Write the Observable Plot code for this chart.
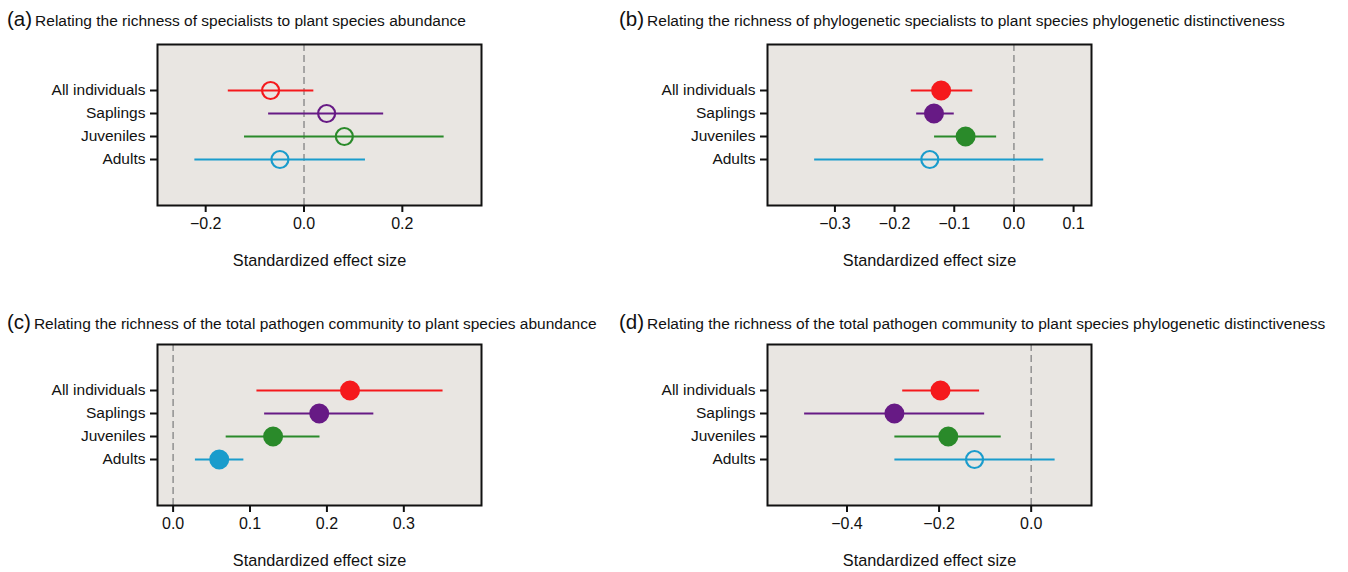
<!DOCTYPE html>
<html>
<head>
<meta charset="utf-8">
<script src="https://cdn.jsdelivr.net/npm/d3@7"></script>
<script src="https://cdn.jsdelivr.net/npm/@observablehq/plot@0.6"></script>
<style>
  body { margin: 0; background: #fff; }
  #root { position: relative; width: 1348px; height: 572px; font-family: "Liberation Sans", Arial, sans-serif; color: #000; }
  .title { position: absolute; white-space: nowrap; line-height: 24px; font-size: 15.5px; color: #111; }
  .title .lab { font-size: 20.5px; margin-right: 3px; }
  .panel { position: absolute; }
</style>
</head>
<body>
<div id="root"></div>
<script>
// ---- data ----
const categories = ["All individuals", "Saplings", "Juveniles", "Adults"];
const colors = ["#f5191c", "#671a85", "#2a8a2a", "#1a9ccc"];

const titles = [
  "Relating the richness of specialists to plant species abundance",
  "Relating the richness of phylogenetic specialists to plant species phylogenetic distinctiveness",
  "Relating the richness of the total pathogen community to plant species abundance",
  "Relating the richness of the total pathogen community to plant species phylogenetic distinctiveness"
];
const panelLabels = ["(a)", "(b)", "(c)", "(d)"];

// panel (a)
const estA = [-0.068, 0.046, 0.082, -0.049];
const lowA = [-0.154, -0.072, -0.121, -0.222];
const highA = [0.020, 0.162, 0.285, 0.125];
const sigA = [false, false, false, false];

// panel (b)
const estB = [-0.122, -0.134, -0.081, -0.141];
const lowB = [-0.172, -0.163, -0.133, -0.334];
const highB = [-0.069, -0.100, -0.029, 0.050];
const sigB = [true, true, true, false];

// panel (c)
const estC = [0.230, 0.190, 0.130, 0.060];
const lowC = [0.109, 0.119, 0.069, 0.029];
const highC = [0.351, 0.261, 0.191, 0.092];
const sigC = [true, true, true, true];

// panel (d)
const estD = [-0.197, -0.297, -0.180, -0.123];
const lowD = [-0.279, -0.492, -0.296, -0.296];
const highD = [-0.112, -0.101, -0.065, 0.052];
const sigD = [true, true, true, false];

// axis settings
const xDomains = [[-0.298, 0.361], [-0.413, 0.130], [-0.0203, 0.401], [-0.5726, 0.131]];
const xTicks = [[-0.2, 0, 0.2], [-0.3, -0.2, -0.1, 0, 0.1], [0, 0.1, 0.2, 0.3], [-0.4, -0.2, 0]];
const xLabel = "Standardized effect size";

const panels = [
  {est: estA, low: lowA, high: highA, sig: sigA, left: 0, top: 30, tLeft: 7, tTop: 7},
  {est: estB, low: lowB, high: highB, sig: sigB, left: 610, top: 30, tLeft: 619, tTop: 7},
  {est: estC, low: lowC, high: highC, sig: sigC, left: 0, top: 330, tLeft: 7, tTop: 310},
  {est: estD, low: lowD, high: highD, sig: sigD, left: 610, top: 330, tLeft: 619, tTop: 310}
];

const root = document.getElementById("root");
const bg = "#e9e6e2";
const fmt = d3.format(".1f");

panels.forEach((p, i) => {
  const t = document.createElement("div");
  t.className = "title";
  t.style.left = p.tLeft + "px";
  t.style.top = p.tTop + "px";
  t.innerHTML = `<span class="lab">${panelLabels[i]}</span>${titles[i]}`;
  root.appendChild(t);

  const data = categories.map((c, j) => ({cat: c, est: p.est[j], lo: p.low[j], hi: p.high[j], sig: p.sig[j]}));

  const chart = Plot.plot({
    width: 501,
    height: 250,
    marginLeft: 157,
    marginRight: 20,
    marginTop: 14,
    marginBottom: 75,
    style: {fontFamily: "'Liberation Sans', Arial, sans-serif", fontSize: "15.5px", color: "#111", background: "transparent"},
    x: {domain: xDomains[i]},
    y: {type: "point", domain: categories, padding: 2},
    color: {domain: categories, range: colors},
    marks: [
      Plot.frame({fill: bg, stroke: null}),
      Plot.ruleX([0], {stroke: "#8a8a8a", strokeWidth: 1.4, strokeDasharray: "7,4"}),
      Plot.ruleY(data, {y: "cat", x1: "lo", x2: "hi", stroke: "cat", strokeWidth: 2}),
      Plot.dot(data.filter(d => d.sig), {x: "est", y: "cat", r: 9, fill: "cat", stroke: "cat", strokeWidth: 2}),
      Plot.dot(data.filter(d => !d.sig), {x: "est", y: "cat", r: 8.5, fill: "none", stroke: "cat", strokeWidth: 2.2}),
      Plot.frame({stroke: "#111", strokeWidth: 2}),
      Plot.axisY({tickSize: 7, tickPadding: 5, strokeWidth: 2, label: null, fontSize: 15.5}),
      Plot.axisX({ticks: xTicks[i], tickFormat: fmt, tickSize: 7, tickPadding: 5, strokeWidth: 2, label: null, fontSize: 16}),
      Plot.text([xLabel], {frameAnchor: "bottom", dy: 60, fontSize: 16.3, text: d => d})
    ]
  });
  const wrap = document.createElement("div");
  wrap.className = "panel";
  wrap.style.left = p.left + "px";
  wrap.style.top = p.top + "px";
  wrap.appendChild(chart);
  root.appendChild(wrap);
});
</script>
</body>
</html>
